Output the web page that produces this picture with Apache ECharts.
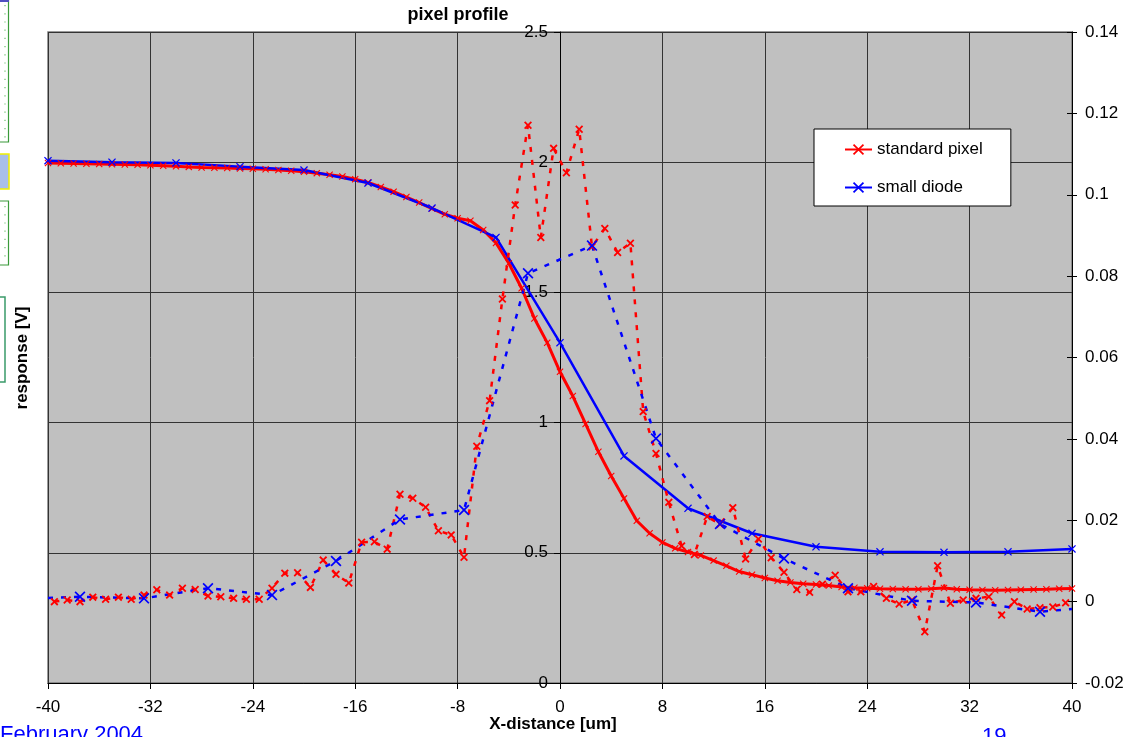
<!DOCTYPE html>
<html><head><meta charset="utf-8">
<script src="https://cdn.jsdelivr.net/npm/echarts@6/dist/echarts.min.js"></script>
<style>html,body{margin:0;padding:0;background:#fff;overflow:hidden}#c{width:1129px;height:737px}</style>
</head><body><div id="c"></div>
<script>
// ---- data ----
const xStd = [-40,-39,-38,-37,-36,-35,-34,-33,-32,-31,-30,-29,-28,-27,-26,-25,-24,-23,-22,-21,
  -20,-19,-18,-17,-16,-15,-14,-13,-12,-11,-10,-9,-8,-7,-6,-5,-4,-3,-2,-1,
  0,1,2,3,4,5,6,7,8,9,10,11,12,13,14,15,16,17,18,19,20,
  21,22,23,24,25,26,27,28,29,30,31,32,33,34,35,36,37,38,39,40];
const stdPixel = [1.997,1.996,1.995,1.994,1.993,1.992,1.991,1.990,1.988,1.986,1.984,1.982,1.980,1.979,1.978,1.976,1.975,1.973,1.970,1.967,
  1.963,1.958,1.952,1.945,1.935,1.922,1.905,1.887,1.866,1.845,1.822,1.800,1.785,1.775,1.740,1.690,1.612,1.516,1.400,1.307,
  1.195,1.102,0.995,0.888,0.795,0.709,0.623,0.575,0.540,0.517,0.503,0.490,0.470,0.450,0.428,0.416,0.403,0.393,0.386,0.381,0.378,
  0.374,0.369,0.366,0.364,0.362,0.361,0.360,0.360,0.362,0.365,0.360,0.358,0.357,0.356,0.357,0.358,0.359,0.360,0.362,0.363];

const xDiode = [-40,-35,-30,-25,-20,-15,-10,-5,0,5,10,15,20,25,30,35,40];
const smallDiode = [2.006,2.000,1.997,1.983,1.970,1.920,1.824,1.711,1.307,0.872,0.671,0.575,0.523,0.504,0.502,0.504,0.515];

const xStdSec = [-39.5,-38.5,-37.5,-36.5,-35.5,-34.5,-33.5,-32.5,-31.5,-30.5,
  -29.5,-28.5,-27.5,-26.5,-25.5,-24.5,-23.5,-22.5,-21.5,-20.5,
  -19.5,-18.5,-17.5,-16.5,-15.5,-14.5,-13.5,-12.5,-11.5,-10.5,
  -9.5,-8.5,-7.5,-6.5,-5.5,-4.5,-3.5,-2.5,-1.5,-0.5,
  0.5,1.5,2.5,3.5,4.5,5.5,6.5,7.5,8.5,9.5,
  10.5,11.5,12.5,13.5,14.5,15.5,16.5,17.5,18.5,19.5,
  20.5,21.5,22.5,23.5,24.5,25.5,26.5,27.5,28.5,29.5,
  30.5,31.5,32.5,33.5,34.5,35.5,36.5,37.5,38.5,39.5];
const stdPixelSec = [0.0000,0.0004,0.0000,0.0011,0.0006,0.0011,0.0006,0.0016,0.0029,0.0016,
  0.0033,0.0030,0.0014,0.0012,0.0008,0.0006,0.0006,0.0033,0.0070,0.0071,
  0.0035,0.0102,0.0067,0.0046,0.0146,0.0147,0.0129,0.0264,0.0254,0.0232,
  0.0174,0.0164,0.0109,0.0382,0.0494,0.0744,0.0975,0.1171,0.0895,0.1114,
  0.1054,0.1161,0.0872,0.0917,0.0858,0.0881,0.0467,0.0364,0.0244,0.0137,
  0.0116,0.0209,0.0190,0.0231,0.0105,0.0154,0.0108,0.0072,0.0030,0.0023,
  0.0043,0.0065,0.0024,0.0024,0.0037,0.0008,-0.0006,0.0004,-0.0074,0.0088,
  -0.0004,0.0004,0.0008,0.0012,-0.0033,0.0000,-0.0018,-0.0015,-0.0013,-0.0003];

const xDiodeSec = [-40,-37.5,-32.5,-27.5,-22.5,-17.5,-12.5,-7.5,-2.5,2.5,7.5,12.5,17.5,22.5,27.5,32.5,37.5,40];
const smallDiodeSec = [0.0009,0.0012,0.0008,0.0033,0.0016,0.0100,0.0202,0.0225,0.0807,0.0875,0.0401,0.0191,0.0106,0.0033,0.0002,-0.0002,-0.0025,-0.0018];

const seriesNames = ['standard pixel', 'small diode'];
const titleText = 'pixel profile';
const xName = 'X-distance [um]';
const yName = 'response [V]';

// ---- chart ----
const FONT = '"Liberation Sans", Arial, sans-serif';
const X_THIN = 'path://M0,1.1L1.1,0L5,3.9L8.9,0L10,1.1L6.1,5L10,8.9L8.9,10L5,6.1L1.1,10L0,8.9L3.9,5Z';
const X_THICK = 'path://M0,1.6L1.6,0L5,3.4L8.4,0L10,1.6L6.6,5L10,8.4L8.4,10L5,6.6L1.6,10L0,8.4L3.4,5Z';
const RED = '#ff0000', BLUE = '#0000ff';

const GRID = {left: 48, right: 57, top: 32, bottom: 54};
const chartWidth = 1129;
const plotWidth = chartWidth - GRID.left - GRID.right;

const chart = echarts.init(document.getElementById('c'), null, {renderer: 'canvas'});
const labelStyle = {color: '#000', fontSize: 17, fontFamily: FONT};

chart.setOption({
  animation: false,
  backgroundColor: '#ffffff',
  textStyle: {fontFamily: FONT},
  grid: Object.assign({show: true, backgroundColor: '#c0c0c0', borderColor: '#7a7a7a', borderWidth: 1.5}, GRID),
  legend: {
    data: seriesNames, orient: 'vertical', left: 814, top: 129,
    padding: [12, 28, 10, 30], itemGap: 21, itemWidth: 27, itemHeight: 14,
    backgroundColor: '#ffffff', borderColor: '#000', borderWidth: 1, borderRadius: 0,
    selectedMode: false,
    textStyle: {color: '#000', fontSize: 17, fontFamily: FONT, lineHeight: 17}
  },
  xAxis: [{
    type: 'value', min: -40, max: 40, interval: 8,
    axisLine: {show: true, onZero: false, lineStyle: {color: '#000', width: 1}},
    axisTick: {show: true, inside: false, length: 6, lineStyle: {color: '#000'}},
    axisLabel: Object.assign({margin: 16}, labelStyle),
    splitLine: {show: true, lineStyle: {color: '#333', width: 1}}
  }],
  yAxis: [{
    // left value axis drawn at x = 0 (middle of the plot)
    type: 'value', min: 0, max: 2.5, interval: 0.5, position: 'left', offset: -plotWidth / 2,
    axisLine: {show: true, onZero: false, lineStyle: {color: '#000', width: 1}},
    axisTick: {show: true, inside: false, length: 6, lineStyle: {color: '#000'}},
    axisLabel: Object.assign({margin: 12}, labelStyle),
    splitLine: {show: true, lineStyle: {color: '#333', width: 1}}
  }, {
    type: 'value', min: -0.02, max: 0.14, interval: 0.02, position: 'right',
    axisLine: {show: true, onZero: false, lineStyle: {color: '#000', width: 1}},
    axisTick: {show: true, inside: false, length: 5, lineStyle: {color: '#000'}},
    axisLabel: Object.assign({margin: 13}, labelStyle),
    splitLine: {show: false}
  }, {
    type: 'value', min: -0.02, max: 0.14, interval: 0.02, position: 'right',
    axisLine: {show: false, onZero: false},
    axisTick: {show: true, inside: true, length: 5, lineStyle: {color: '#000'}},
    axisLabel: {show: false},
    splitLine: {show: false}
  }],
  series: [{
    name: seriesNames[0], type: 'line', xAxisIndex: 0, yAxisIndex: 0,
    data: xStd.map((x, i) => [x, stdPixel[i]]),
    symbol: X_THIN, symbolSize: 7, showAllSymbol: true,
    lineStyle: {color: RED, width: 3}, itemStyle: {color: RED}
  }, {
    name: seriesNames[1], type: 'line', xAxisIndex: 0, yAxisIndex: 0,
    data: xDiode.map((x, i) => [x, smallDiode[i]]),
    symbol: X_THIN, symbolSize: 8, showAllSymbol: true,
    lineStyle: {color: BLUE, width: 2.5}, itemStyle: {color: BLUE}
  }, {
    name: seriesNames[0], type: 'line', xAxisIndex: 0, yAxisIndex: 1,
    data: xStdSec.map((x, i) => [x, stdPixelSec[i]]),
    symbol: X_THICK, symbolSize: 8, showAllSymbol: true,
    lineStyle: {color: RED, width: 2.5, type: [5, 8]}, itemStyle: {color: RED}
  }, {
    name: seriesNames[1], type: 'line', xAxisIndex: 0, yAxisIndex: 1,
    data: xDiodeSec.map((x, i) => (i === 0 || i === xDiodeSec.length - 1)
      ? {value: [x, smallDiodeSec[i]], symbol: 'none'} : [x, smallDiodeSec[i]]),
    symbol: X_THIN, symbolSize: 11, showAllSymbol: true,
    lineStyle: {color: BLUE, width: 2.5, type: [5, 8]}, itemStyle: {color: BLUE}
  }],
  graphic: [
    // slide decorations on the left edge
    {type: 'rect', shape: {x: -2, y: -2, width: 10.5, height: 144}, style: {fill: '#fff', stroke: '#3a9a3a', lineWidth: 1.2}, silent: true},
    {type: 'line', shape: {x1: 5, y1: 5, x2: 5, y2: 140}, style: {stroke: '#6bbf6b', lineWidth: 1.2, lineDash: [1.2, 7]}, silent: true},
    {type: 'line', shape: {x1: 0, y1: 1, x2: 9, y2: 1}, style: {stroke: '#5050c0', lineWidth: 2}, silent: true},
    {type: 'rect', shape: {x: -2, y: 154, width: 11, height: 35}, style: {fill: '#a9bfe8', stroke: '#f0f000', lineWidth: 1.5}, silent: true},
    {type: 'rect', shape: {x: -2, y: 201, width: 10.5, height: 64}, style: {fill: '#fff', stroke: '#3a9a3a', lineWidth: 1.2}, silent: true},
    {type: 'line', shape: {x1: 5, y1: 206, x2: 5, y2: 262}, style: {stroke: '#6bbf6b', lineWidth: 1.2, lineDash: [1.2, 7]}, silent: true},
    {type: 'rect', shape: {x: -2, y: 297, width: 7, height: 85}, style: {fill: '#fff', stroke: '#3a9a6a', lineWidth: 1.5}, silent: true},
    // titles
    {type: 'text', x: 458, y: 15, silent: true,
      style: {text: titleText, font: 'bold 18px ' + FONT, fill: '#000', align: 'center', verticalAlign: 'middle'}},
    {type: 'text', x: 553, y: 724, silent: true,
      style: {text: xName, font: 'bold 17px ' + FONT, fill: '#000', align: 'center', verticalAlign: 'middle'}},
    {type: 'text', x: 22, y: 358, rotation: Math.PI / 2, silent: true,
      style: {text: yName, font: 'bold 17px ' + FONT, fill: '#000', align: 'center', verticalAlign: 'middle'}},
    {type: 'text', x: 0, y: 735, silent: true,
      style: {text: 'February 2004', font: '22px ' + FONT, fill: '#0000ff', align: 'left', verticalAlign: 'middle'}},
    {type: 'text', x: 982, y: 737, silent: true,
      style: {text: '19', font: '22px ' + FONT, fill: '#0000ff', align: 'left', verticalAlign: 'middle'}}
  ]
});
</script></body></html>
